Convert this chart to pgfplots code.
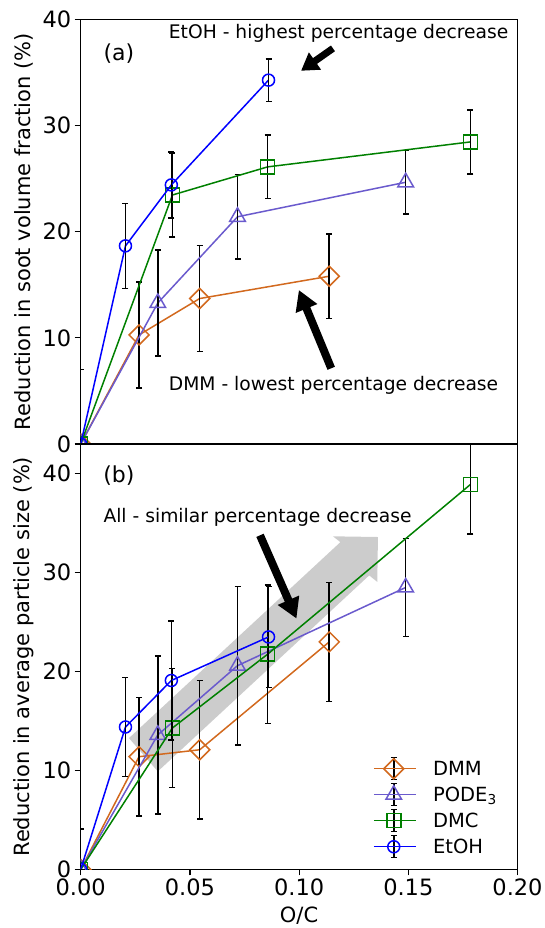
\documentclass[border=0pt]{standalone}
\usepackage{fontspec}
\setmainfont{DejaVu Sans}
\usepackage{pgfplots}
\usepackage{pgfplotstable}
\pgfplotsset{compat=1.18}
\usetikzlibrary{arrows.meta}
\definecolor{cDMM}{RGB}{210,105,30}
\definecolor{cPODE}{RGB}{106,90,205}
\definecolor{cDMC}{RGB}{0,128,0}
\definecolor{cEtOH}{RGB}{0,0,255}

% panel (a): reduction in soot volume fraction
\pgfplotstableread{
x y e
0 0 7
0.0267 10.27 5
0.0545 13.7 5
0.1138 15.8 4
}\dmmA
\pgfplotstableread{
x y e
0 0 0
0.0353 13.28 5
0.0718 21.4 4
0.1488 24.65 3
}\podeA
\pgfplotstableread{
x y e
0 0 0
0.0420 23.45 3.95
0.0856 26.1 3
0.1784 28.45 3
}\dmcA
\pgfplotstableread{
x y e
0 0 0
0.0205 18.66 4
0.0415 24.4 3.1
0.0860 34.27 2
}\etohA
% panel (b): reduction in average particle size
\pgfplotstableread{
x y e
0 0 4.1
0.0267 11.4 6
0.0545 12.1 7
0.1138 23.0 6
}\dmmB
\pgfplotstableread{
x y e
0 0 0
0.0353 13.6 8
0.0718 20.6 8
0.1488 28.5 4.95
}\podeB
\pgfplotstableread{
x y e
0 0 0
0.0420 14.3 6
0.0856 21.76 7
0.1784 38.9 5
}\dmcB
\pgfplotstableread{
x y e
0 0 0
0.0205 14.4 5
0.0415 19.1 6
0.0860 23.5 5.1
}\etohB

\pgfplotsset{
  myaxis/.style={
    scale only axis, width=436.8pt,
    xmin=0, xmax=0.2,
    axis line style={line width=1.2pt},
    tick align=outside, xtick pos=bottom, ytick pos=left,
    major tick length=6pt,
    tick style={line width=1.2pt, black},
    ticklabel style={font=\fontsize{22.5}{26}\selectfont},
    /pgf/number format/assume math mode=true,
    label style={font=\fontsize{21}{25}\selectfont},
    clip mode=individual, clip marker paths=true,
    ytick={0,10,20,30,40},
    ylabel style={at={(axis description cs:-0.13,0.5)}, anchor=center},
  },
  ser/.style={line width=1.5pt, #1,
    error bars/.cd, y dir=both, y explicit,
    error bar style={black, line width=1.5pt},
    error mark options={black, rotate=90, mark size=3pt, line width=1.5pt}},
  mDMM/.style={mark=square, mark size=7.07pt, mark options={rotate=45, solid, line width=1.5pt}},
  mPODE/.style={mark=triangle, mark size=9pt, mark options={solid, line width=1.5pt}},
  mDMC/.style={mark=square, mark size=7pt, mark options={solid, line width=1.5pt}},
  mEtOH/.style={mark=o, mark size=6pt, mark options={solid, line width=1.5pt}},
}

\newcommand{\annfont}{\fontsize{18.7}{22}\selectfont}

\begin{document}
\begin{tikzpicture}[x=1pt,y=1pt]
% ---------- panel (a)
\begin{axis}[myaxis, at={(80.7pt,484pt)}, anchor=south west,
  height=424.7pt, ymin=0, ymax=40,
  xtick=\empty,
  ylabel={Reduction in soot volume fraction (\%)}]
\addplot[mDMM, ser=cDMM] table[x=x,y=y,y error=e] {\dmmA};
\addplot[mPODE, ser=cPODE] table[x=x,y=y,y error=e] {\podeA};
\addplot[mDMC, ser=cDMC] table[x=x,y=y,y error=e] {\dmcA};
\addplot[mEtOH, ser=cEtOH] table[x=x,y=y,y error=e] {\etohA};
\node[font=\fontsize{22}{26}\selectfont] at (axis cs:0.0175,36.8) {(a)};
\node[anchor=west, inner sep=0pt, font=\annfont] at (axis cs:0.0403,38.67) {EtOH - highest percentage decrease};
\node[anchor=west, inner sep=0pt, font=\annfont] at (axis cs:0.0403,5.56) {DMM - lowest percentage decrease};
\draw[line width=7pt, -{Triangle[length=17pt,width=20pt]}] (axis cs:0.1155,37.26) -- (axis cs:0.1009,35.15);
\draw[line width=8pt, -{Triangle[length=20pt,width=22pt]}] (axis cs:0.1147,7.13) -- (axis cs:0.0999,14.5);
\end{axis}
% ---------- panel (b)
\begin{axis}[myaxis, at={(80.7pt,58.5pt)}, anchor=south west,
  height=425.5pt, ymin=0, ymax=43,
  xtick={0,0.05,0.1,0.15,0.2},
  xticklabel style={/pgf/number format/.cd, fixed, fixed zerofill, precision=2},
  xlabel={O/C},
  xlabel style={at={(axis description cs:0.5,-0.109)}, anchor=center},
  ylabel={Reduction in average particle size (\%)},
  legend style={draw=none, fill=none, at={(axis description cs:0.6692,0.2644)}, anchor=north west,
    font=\fontsize{19.5}{22}\selectfont, inner sep=0pt, outer sep=0pt, row sep=2.5pt,
    nodes={inner sep=0pt, outer sep=0pt, text height=17pt, text depth=2.8pt},
    /tikz/every odd column/.append style={column sep=16.6pt}},
  legend cell align=left,
  legend image code/.code={
    \draw[black, line width=1.5pt] (20pt,-11pt) -- (20pt,11pt) (17pt,-11pt) -- (23pt,-11pt) (17pt,11pt) -- (23pt,11pt);
    \draw[mark repeat=2, mark phase=2, #1] plot coordinates {(0pt,0pt) (20pt,0pt) (42pt,0pt)};
  }]
\fill[gray!40] (axis cs:0.0221,13.28) -- (axis cs:0.1189,33.08) -- (axis cs:0.1155,33.67) -- (axis cs:0.1361,33.6)
  -- (axis cs:0.1358,29.06) -- (axis cs:0.1321,29.72) -- (axis cs:0.0353,9.91) -- cycle;
\addplot[mDMM, ser=cDMM] table[x=x,y=y,y error=e] {\dmmB};
\addplot[mPODE, ser=cPODE] table[x=x,y=y,y error=e] {\podeB};
\addplot[mDMC, ser=cDMC] table[x=x,y=y,y error=e] {\dmcB};
\addplot[mEtOH, ser=cEtOH] table[x=x,y=y,y error=e] {\etohB};
\legend{DMM, PODE\textsubscript{3}, DMC, EtOH}
\node[font=\fontsize{22}{26}\selectfont] at (axis cs:0.0175,39.76) {(b)};
\node[anchor=west, inner sep=0pt, font=\annfont] at (axis cs:0.01035,35.56) {All - similar percentage decrease};
\draw[line width=8pt, -{Triangle[length=20pt,width=22pt]}] (axis cs:0.0821,33.77) -- (axis cs:0.0988,25.36);
\end{axis}
\pgfresetboundingbox
\path[use as bounding box] (0,0) rectangle (544,928);
\end{tikzpicture}
\end{document}
